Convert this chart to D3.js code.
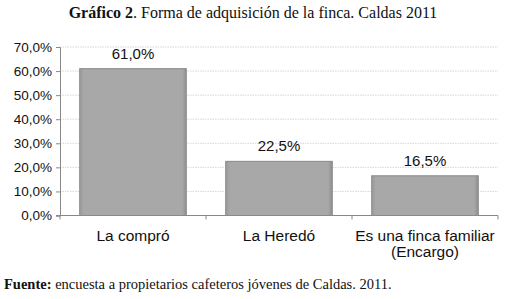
<!DOCTYPE html>
<html>
<head>
<meta charset="utf-8">
<script src="https://cdn.jsdelivr.net/npm/d3@7"></script>
<style>
	body{ margin:0; background:#fff; }
	svg{ display:block; }
</style>
</head>
<body>
<svg id="chart" width="506" height="299"></svg>
<script>
// datos
const categories = ["La compró", "La Heredó", "Es una finca familiar\n(Encargo)"];
const values = [61.0, 22.5, 16.5];
const yTicks = [0, 10, 20, 30, 40, 50, 60, 70];

let svg = d3.select("#chart");
let plotLeft = 60, plotRight = 498, plotTop = 47, plotBottom = 215.5;

let x = d3.scaleBand().domain(categories).range([plotLeft, plotRight]).paddingInner(0.27).paddingOuter(0.135);
let y = d3.scaleLinear().domain([0, 70]).range([plotBottom, plotTop]);
let fmt = v => v.toFixed(1).replace(".", ",") + "%";

/* ---- titulo ---- */
let title = svg.append("text")
	.attr("x", 253).attr("y", 18)
	.attr("text-anchor", "middle")
	.attr("font-family", "Liberation Serif, serif")
	.attr("font-size", 16)
	.attr("fill", "#111");
title.append("tspan").attr("font-weight", "bold").text("Gráfico 2");
title.append("tspan").text(". Forma de adquisición de la finca. Caldas 2011");

/* ---- rejilla ---- */
svg.append("g").selectAll("line")
	.data(yTicks.slice(1))
	.enter().append("line")
	.attr("x1", plotLeft).attr("x2", plotRight)
	.attr("y1", d => y(d)).attr("y2", d => y(d))
	.attr("stroke", "#d6d6d6")
	.attr("stroke-dasharray", "1.5,1");

/* ---- ejes ---- */
let yAxis = svg.append("g")
	.attr("transform", "translate(" + plotLeft + ",0)")
	.call(d3.axisLeft(y).tickValues(yTicks).tickSize(4).tickFormat(fmt));
yAxis.select(".domain").attr("stroke", "#888");
yAxis.selectAll(".tick line").attr("stroke", "#888");
yAxis.selectAll("text")
	.attr("font-family", "Liberation Sans, Arial, sans-serif")
	.attr("font-size", 13.5)
	.attr("fill", "#111")
	.attr("x", -8);

let xAxis = svg.append("g")
	.attr("transform", "translate(0," + plotBottom + ")");
xAxis.append("line")
	.attr("x1", plotLeft - 4).attr("x2", plotRight)
	.attr("stroke", "#888");
let step = x.step();
let edges = [plotLeft, plotLeft + step, plotLeft + 2 * step, plotRight];
xAxis.selectAll(".tk").data(edges).enter().append("line")
	.attr("x1", d => d).attr("x2", d => d)
	.attr("y1", 0).attr("y2", 4)
	.attr("stroke", "#888");

/* ---- barras ---- */
let defs = svg.append("defs");
let grad = defs.append("linearGradient").attr("id", "barGrad")
	.attr("x1", 0).attr("x2", 1).attr("y1", 0).attr("y2", 0);
grad.append("stop").attr("offset", "0%").attr("stop-color", "#9a9a9a");
grad.append("stop").attr("offset", "4%").attr("stop-color", "#a8a8a8");
grad.append("stop").attr("offset", "96%").attr("stop-color", "#a8a8a8");
grad.append("stop").attr("offset", "100%").attr("stop-color", "#8f8f8f");

svg.selectAll(".bar")
	.data(values)
	.enter().append("rect")
	.attr("class", "bar")
	.attr("x", (d, i) => x(categories[i]))
	.attr("y", d => y(d))
	.attr("width", x.bandwidth())
	.attr("height", d => plotBottom - y(d))
	.attr("fill", "url(#barGrad)")
	.attr("stroke", "#8a8a8a")
	.attr("stroke-width", 1);

svg.selectAll(".lbl")
	.data(values)
	.enter().append("text")
	.attr("x", (d, i) => x(categories[i]) + x.bandwidth() / 2)
	.attr("y", d => y(d) - 10)
	.attr("text-anchor", "middle")
	.attr("font-family", "Liberation Sans, Arial, sans-serif")
	.attr("font-size", 15)
	.attr("fill", "#111")
	.text(fmt);

/* ---- categorias ---- */
categories.forEach((c, i) => {
	let t = svg.append("text")
		.attr("text-anchor", "middle")
		.attr("font-family", "Liberation Sans, Arial, sans-serif")
		.attr("font-size", 15.5)
		.attr("fill", "#111");
	c.split("\n").forEach((line, j) => {
		t.append("tspan")
			.attr("x", x(c) + x.bandwidth() / 2)
			.attr("y", 241 + j * 16)
			.text(line);
	});
});

/* ---- fuente ---- */
let foot = svg.append("text")
	.attr("x", 4).attr("y", 289)
	.attr("font-family", "Liberation Serif, serif")
	.attr("font-size", 14.5)
	.attr("fill", "#111");
foot.append("tspan").attr("font-weight", "bold").text("Fuente:");
foot.append("tspan").text(" encuesta a propietarios cafeteros jóvenes de Caldas. 2011.");
</script>
</body>
</html>
